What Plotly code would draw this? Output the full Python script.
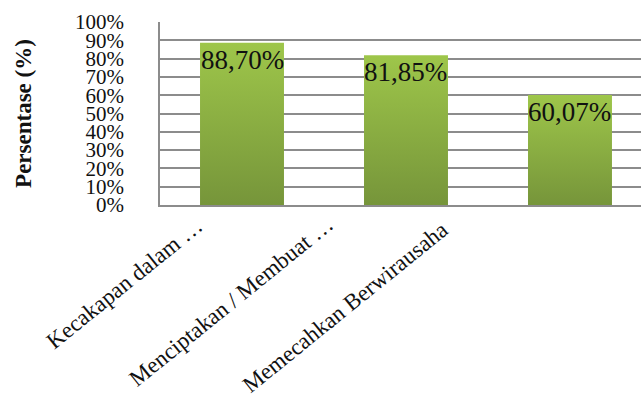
import plotly.graph_objects as go

# Category labels and their percentage scores
categories = [
    "Kecakapan dalam …",
    "Menciptakan / Membuat …",
    "Memecahkan Berwirausaha",
]
values = [0.8870, 0.8185, 0.6007]

y_ticks = [i / 10 for i in range(11)]

BAR_HALF = 0.256
SERIF = "Liberation Serif"
GRID = "#8c8c8c"

fig = go.Figure()

# Bars drawn as filled rectangles so each can carry a vertical green gradient
for i, v in enumerate(values):
    fig.add_trace(go.Scatter(
        x=[i - BAR_HALF, i - BAR_HALF, i + BAR_HALF, i + BAR_HALF, i - BAR_HALF],
        y=[0, v, v, 0, 0],
        mode="lines",
        line=dict(width=0, color="rgba(0,0,0,0)"),
        fill="toself",
        fillgradient=dict(
            type="vertical",
            colorscale=[[0, "#76953a"], [1, "#9ec64a"]],
        ),
        hoverinfo="skip",
        showlegend=False,
    ))

# Value labels placed just inside the top of each bar
for i, v in enumerate(values):
    fig.add_annotation(
        x=i, y=v, xref="x", yref="y",
        text=f"{v * 100:.2f}".replace(".", ",") + "%",
        showarrow=False, yanchor="top", yshift=0,
        font=dict(family=SERIF, size=27, color="#111111"),
    )

# Slanted category labels under the axis
label_shift = [(-32, -5), (-65, -4), (-115, -9)]
for i, name in enumerate(categories):
    dx, dy = label_shift[i]
    fig.add_annotation(
        x=i, y=0, xref="x", yref="y",
        text=name, showarrow=False, textangle=-39,
        xanchor="right", yanchor="top", xshift=dx, yshift=dy,
        font=dict(family=SERIF, size=23, color="#111111"),
    )

fig.update_layout(
    width=641, height=403,
    margin=dict(l=160, r=0, t=22, b=198),
    paper_bgcolor="white", plot_bgcolor="white",
    showlegend=False,
    xaxis=dict(
        range=[-0.5, 2.433],
        showticklabels=False, ticks="",
        showgrid=False, zeroline=False,
        showline=True, linecolor=GRID, linewidth=1.5,
        fixedrange=True,
    ),
    yaxis=dict(
        range=[0, 1],
        tickvals=y_ticks,
        tickformat=".0%",
        ticks="",
        ticklabelstandoff=30,
        tickfont=dict(family=SERIF, size=21, color="#111111"),
        showgrid=True, gridcolor=GRID, gridwidth=1.5,
        zeroline=False,
        showline=True, linecolor=GRID, linewidth=1.5,
        title=dict(
            text="<b>Persentase (%)</b>",
            font=dict(family=SERIF, size=23, color="#111111"),
            standoff=37,
        ),
        fixedrange=True,
    ),
)

fig.write_html("out.html")
